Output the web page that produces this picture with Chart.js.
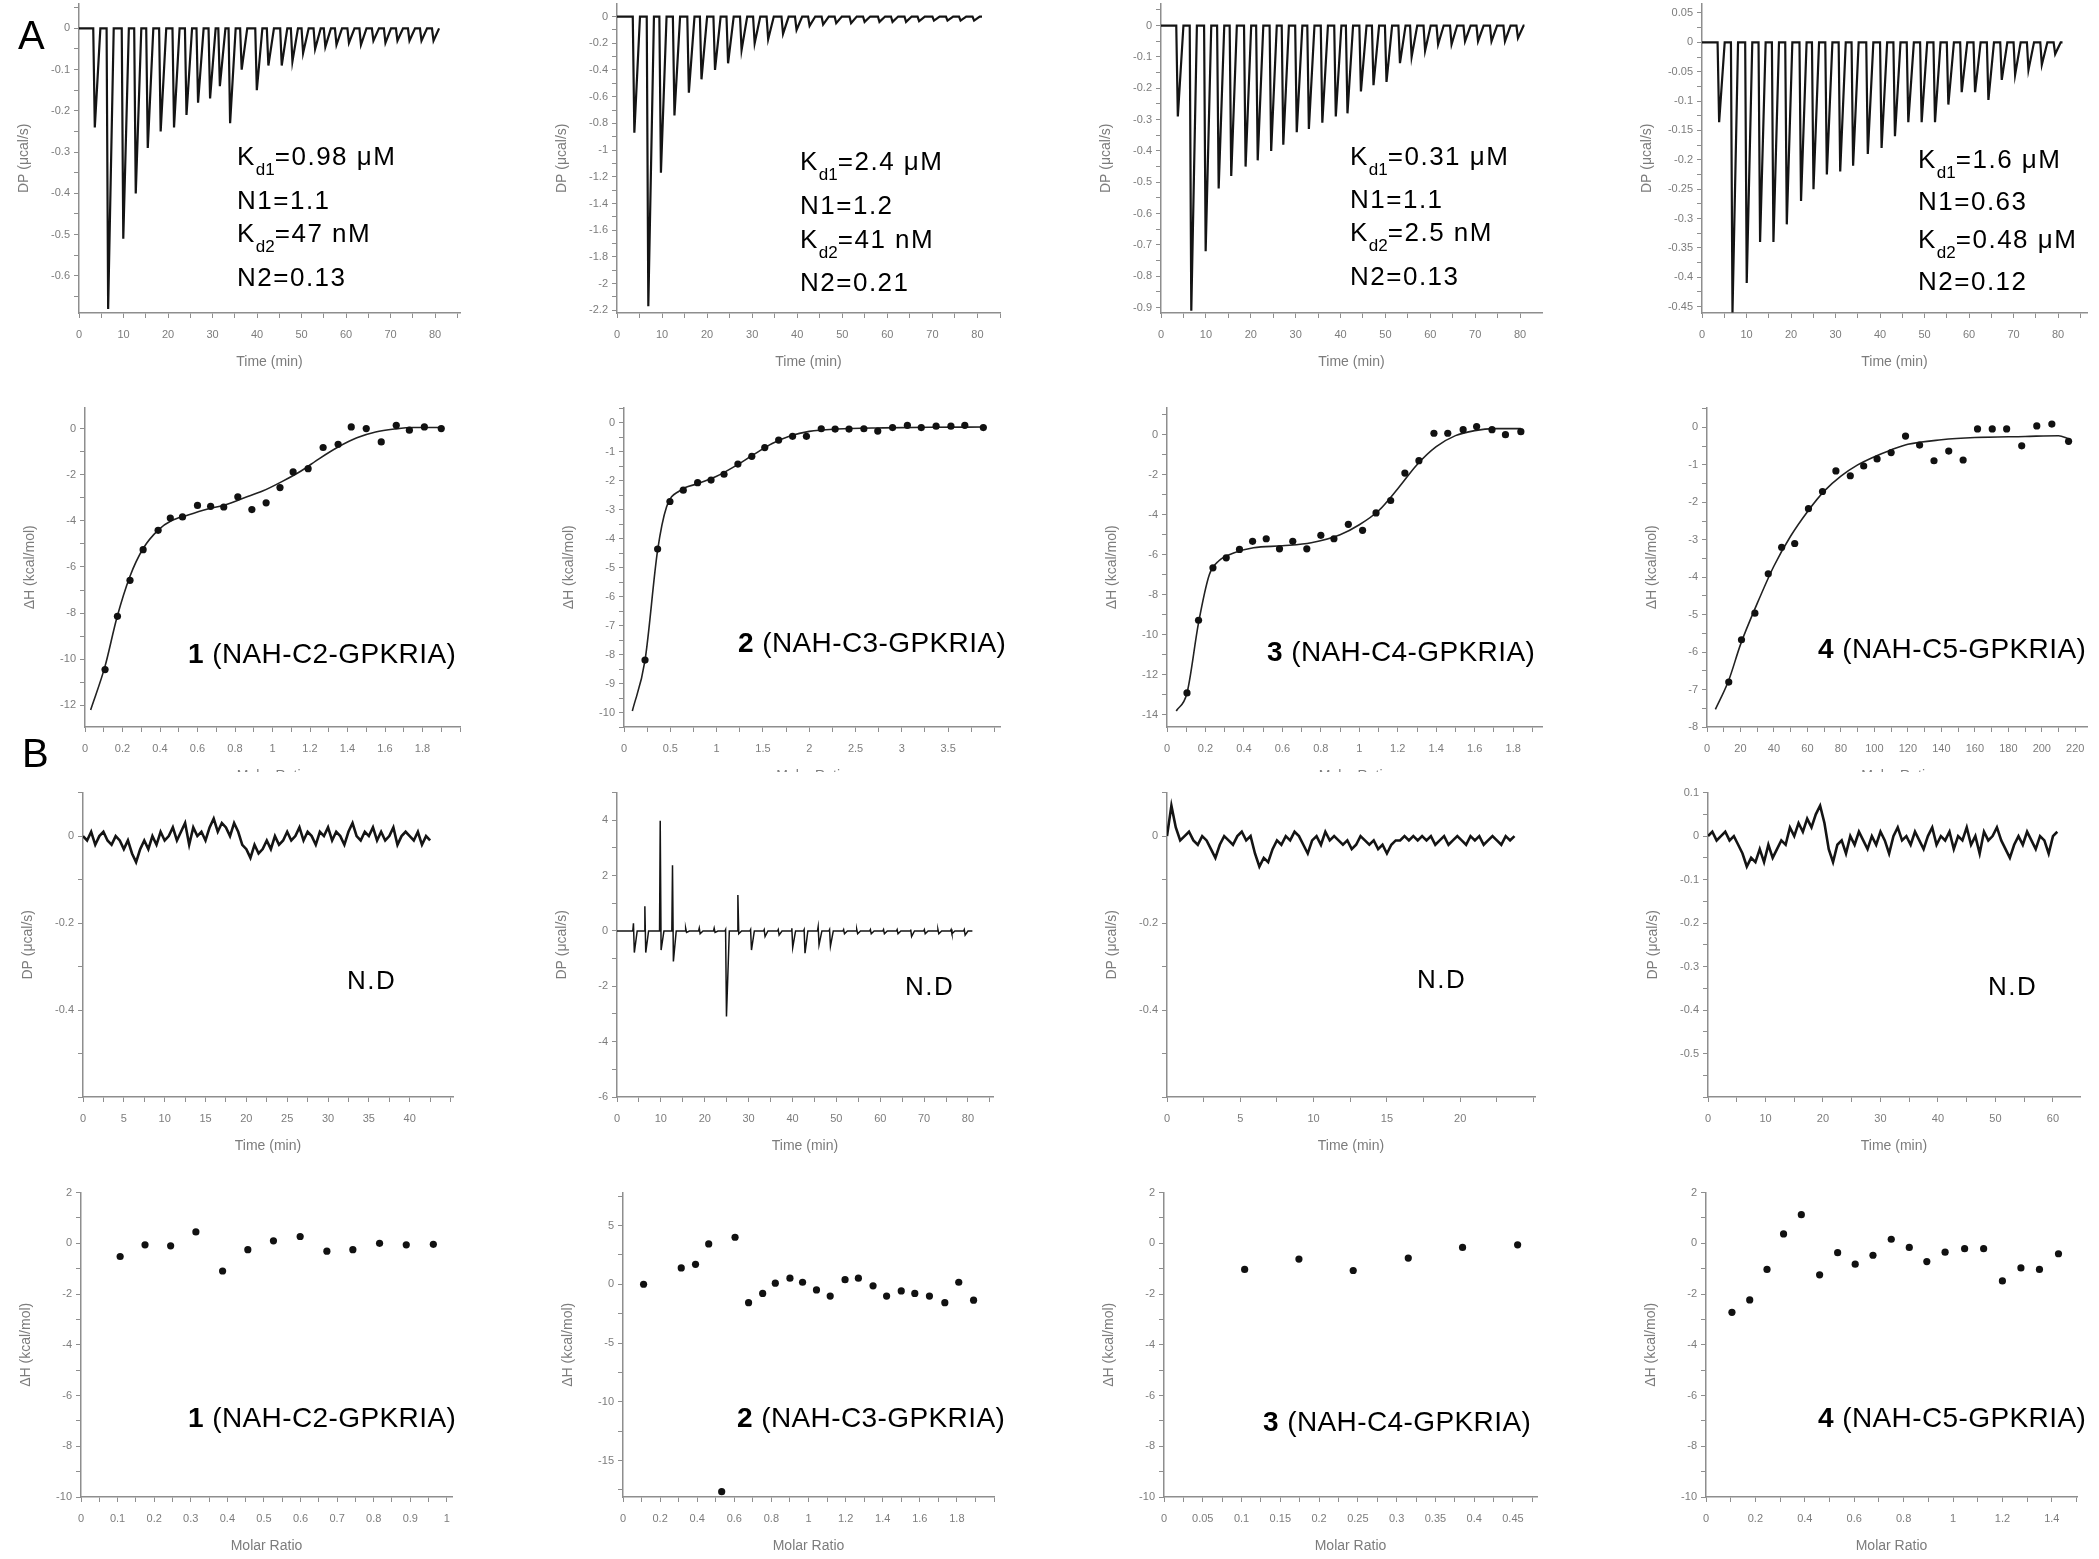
<!DOCTYPE html>
<html>
<head>
<meta charset="utf-8">
<script src="https://cdn.jsdelivr.net/npm/chart.js@4.4.1/dist/chart.umd.min.js"></script>
<style>
body { margin: 0; width: 2099px; height: 1559px; background: #fff; position: relative; overflow: hidden; font-family: "Liberation Sans", Arial, sans-serif; }
.lbl { position: absolute; color: #000; font-size: 26px; line-height: 26px; letter-spacing: 1.5px; white-space: nowrap; z-index: 5; }
.lbl sub { font-size: 17px; position: relative; top: 10px; vertical-align: baseline; letter-spacing: 0; line-height: 0; }
.cmp { font-size: 28px; line-height: 28px; letter-spacing: 0.4px; }
.big { font-size: 40px; line-height: 40px; letter-spacing: 0; }
</style>
</head>
<body>

<div class="lbl big" style="left:18px;top:15px">A</div>
<div class="lbl big" style="left:22px;top:733px">B</div>

<div class="lbl" style="left:237px;top:143px">K<sub>d1</sub>=0.98 μM</div>
<div class="lbl" style="left:237px;top:187px">N1=1.1</div>
<div class="lbl" style="left:237px;top:220px">K<sub>d2</sub>=47 nM</div>
<div class="lbl" style="left:237px;top:264px">N2=0.13</div>

<div class="lbl" style="left:800px;top:148px">K<sub>d1</sub>=2.4 μM</div>
<div class="lbl" style="left:800px;top:192px">N1=1.2</div>
<div class="lbl" style="left:800px;top:226px">K<sub>d2</sub>=41 nM</div>
<div class="lbl" style="left:800px;top:269px">N2=0.21</div>

<div class="lbl" style="left:1350px;top:143px">K<sub>d1</sub>=0.31 μM</div>
<div class="lbl" style="left:1350px;top:186px">N1=1.1</div>
<div class="lbl" style="left:1350px;top:219px">K<sub>d2</sub>=2.5 nM</div>
<div class="lbl" style="left:1350px;top:263px">N2=0.13</div>

<div class="lbl" style="left:1918px;top:146px">K<sub>d1</sub>=1.6 μM</div>
<div class="lbl" style="left:1918px;top:188px">N1=0.63</div>
<div class="lbl" style="left:1918px;top:226px">K<sub>d2</sub>=0.48 μM</div>
<div class="lbl" style="left:1918px;top:268px">N2=0.12</div>

<div class="lbl cmp" style="left:188px;top:640px"><b>1</b> (NAH-C2-GPKRIA)</div>
<div class="lbl cmp" style="left:738px;top:629px"><b>2</b> (NAH-C3-GPKRIA)</div>
<div class="lbl cmp" style="left:1267px;top:638px"><b>3</b> (NAH-C4-GPKRIA)</div>
<div class="lbl cmp" style="left:1818px;top:635px"><b>4</b> (NAH-C5-GPKRIA)</div>

<div class="lbl" style="left:347px;top:967px">N.D</div>
<div class="lbl" style="left:905px;top:973px">N.D</div>
<div class="lbl" style="left:1417px;top:966px">N.D</div>
<div class="lbl" style="left:1988px;top:973px">N.D</div>

<div class="lbl cmp" style="left:188px;top:1404px"><b>1</b> (NAH-C2-GPKRIA)</div>
<div class="lbl cmp" style="left:737px;top:1404px"><b>2</b> (NAH-C3-GPKRIA)</div>
<div class="lbl cmp" style="left:1263px;top:1408px"><b>3</b> (NAH-C4-GPKRIA)</div>
<div class="lbl cmp" style="left:1818px;top:1404px"><b>4</b> (NAH-C5-GPKRIA)</div>

<script>
// ---- row A, raw thermograms: injection time (min) and peak depth (ucal/s)
const injT1 = [3.2, 6.2, 9.6, 12.4, 15.1, 18.0, 21.0, 23.8, 26.4, 29.1, 31.3, 33.6, 36.2, 39.6, 42.2, 45.2, 47.6, 50.0, 52.7, 55.0, 57.5, 60.3, 63.0, 65.8, 68.5, 71.2, 73.9, 76.6, 79.3];
const injP1 = [-0.24, -0.68, -0.51, -0.40, -0.29, -0.25, -0.24, -0.21, -0.18, -0.17, -0.14, -0.23, -0.10, -0.15, -0.09, -0.09, -0.08, -0.06, -0.05, -0.045, -0.04, -0.035, -0.04, -0.03, -0.035, -0.03, -0.03, -0.03, -0.03];
const injT2 = [3.5, 6.6, 9.4, 12.4, 15.6, 18.4, 21.4, 24.3, 27.3, 30.2, 33.2, 36.5, 39.5, 42.4, 45.4, 48.3, 51.6, 54.6, 57.9, 60.8, 63.8, 66.7, 70.0, 73.0, 75.9, 78.9];
const injP2 = [-0.87, -2.17, -1.17, -0.74, -0.57, -0.47, -0.40, -0.35, -0.25, -0.20, -0.17, -0.13, -0.10, -0.07, -0.06, -0.05, -0.05, -0.04, -0.04, -0.04, -0.04, -0.035, -0.03, -0.03, -0.03, -0.03];
const injT3 = [3.4, 6.4, 9.6, 12.5, 15.3, 18.5, 21.2, 24.2, 26.9, 29.9, 32.6, 35.6, 38.6, 41.2, 44.2, 47.0, 49.9, 52.9, 55.5, 58.5, 61.4, 64.4, 67.4, 70.3, 73.3, 76.3, 79.2];
const injP3 = [-0.29, -0.91, -0.72, -0.52, -0.48, -0.45, -0.43, -0.40, -0.38, -0.34, -0.33, -0.31, -0.29, -0.28, -0.21, -0.19, -0.18, -0.12, -0.10, -0.08, -0.06, -0.06, -0.05, -0.05, -0.05, -0.05, -0.04];
const injT4 = [3.5, 6.5, 9.7, 12.7, 15.7, 18.7, 21.9, 24.7, 27.7, 30.7, 33.6, 36.9, 40.0, 43.0, 46.0, 49.0, 52.0, 55.0, 58.0, 61.0, 64.0, 67.0, 70.0, 73.0, 76.0, 79.0];
const injP4 = [-0.136, -0.46, -0.41, -0.34, -0.34, -0.31, -0.27, -0.25, -0.225, -0.22, -0.21, -0.19, -0.18, -0.16, -0.136, -0.136, -0.136, -0.106, -0.085, -0.085, -0.098, -0.064, -0.055, -0.047, -0.038, -0.02];

// ---- row A, integrated heats: molar ratio, dH (kcal/mol), and fitted curve
const mr1 = [0.107, 0.173, 0.24, 0.31, 0.39, 0.455, 0.52, 0.60, 0.67, 0.74, 0.815, 0.89, 0.966, 1.04, 1.11, 1.19, 1.27, 1.35, 1.42, 1.50, 1.58, 1.66, 1.73, 1.81, 1.90];
const dh1 = [-10.45, -8.14, -6.58, -5.25, -4.41, -3.88, -3.83, -3.33, -3.37, -3.40, -2.96, -3.51, -3.22, -2.56, -1.88, -1.74, -0.82, -0.68, 0.07, 0.0, -0.58, 0.14, -0.07, 0.07, 0.0];
const fitX1 = [0.03, 0.107, 0.17, 0.24, 0.31, 0.39, 0.46, 0.55, 0.65, 0.75, 0.85, 0.95, 1.05, 1.15, 1.25, 1.35, 1.45, 1.55, 1.65, 1.75, 1.90];
const fitY1 = [-12.2, -10.3, -8.2, -6.4, -5.2, -4.4, -4.0, -3.75, -3.5, -3.3, -3.0, -2.7, -2.3, -1.85, -1.3, -0.8, -0.4, -0.15, -0.02, 0.05, 0.05];

const mr2 = [0.227, 0.363, 0.496, 0.64, 0.795, 0.94, 1.08, 1.23, 1.38, 1.52, 1.67, 1.82, 1.97, 2.13, 2.28, 2.43, 2.59, 2.74, 2.90, 3.06, 3.21, 3.37, 3.53, 3.68, 3.88];
const dh2 = [-8.19, -4.36, -2.72, -2.33, -2.07, -1.98, -1.78, -1.43, -1.16, -0.86, -0.60, -0.47, -0.47, -0.21, -0.22, -0.22, -0.21, -0.29, -0.17, -0.09, -0.17, -0.12, -0.12, -0.09, -0.17];
const fitX2 = [0.09, 0.227, 0.363, 0.46, 0.6, 0.8, 1.0, 1.2, 1.4, 1.6, 1.8, 2.0, 2.3, 2.8, 3.3, 3.88];
const fitY2 = [-9.95, -8.2, -4.4, -2.9, -2.35, -2.1, -1.85, -1.5, -1.1, -0.72, -0.45, -0.3, -0.22, -0.18, -0.16, -0.15];

const mr3 = [0.104, 0.164, 0.239, 0.308, 0.377, 0.445, 0.516, 0.585, 0.654, 0.727, 0.80, 0.868, 0.943, 1.017, 1.087, 1.163, 1.237, 1.31, 1.388, 1.46, 1.54, 1.61, 1.69, 1.76, 1.84];
const dh3 = [-12.9, -9.27, -6.65, -6.15, -5.73, -5.33, -5.2, -5.7, -5.33, -5.7, -5.03, -5.2, -4.48, -4.78, -3.91, -3.29, -1.92, -1.30, 0.07, 0.07, 0.25, 0.40, 0.25, 0.0, 0.15];
const fitX3 = [0.048, 0.104, 0.164, 0.22, 0.27, 0.35, 0.45, 0.6, 0.75, 0.9, 1.0, 1.1, 1.2, 1.3, 1.4, 1.5, 1.6, 1.7, 1.84];
const fitY3 = [-13.8, -12.9, -9.4, -7.0, -6.3, -5.9, -5.65, -5.55, -5.4, -5.0, -4.5, -3.8, -2.7, -1.5, -0.6, -0.05, 0.2, 0.3, 0.3];

const mr4 = [13, 20.6, 28.6, 36.6, 44.6, 52.4, 60.6, 69, 77, 85.6, 93.6, 101.6, 110, 118.6, 127, 135.6, 144.4, 153, 161.6, 170.4, 179, 188, 197, 206, 216];
const dh4 = [-6.8, -5.67, -4.96, -3.91, -3.2, -3.1, -2.17, -1.71, -1.16, -1.29, -1.03, -0.84, -0.67, -0.23, -0.47, -0.89, -0.63, -0.87, -0.04, -0.04, -0.04, -0.49, 0.04, 0.09, -0.37];
const fitX4 = [5, 13, 20, 30, 40, 50, 60, 70, 80, 90, 100, 110, 120, 140, 160, 190, 210, 216];
const fitY4 = [-7.53, -6.75, -5.8, -4.7, -3.7, -2.9, -2.25, -1.7, -1.3, -1.0, -0.78, -0.6, -0.45, -0.33, -0.27, -0.24, -0.22, -0.3];

// ---- row B, raw traces (controls): baseline readings at a fixed interval, ucal/s
const stepB1 = 0.5;
const traceB1 = [0, -1, 1, -2, 0, 1, -1, -2, 0, -1, -3, -1, -4, -6, -3, -1, -3, 0, -2, 1, -1, 0, 2, -1, 1, 3, -2, 2, 0, 1,
  -1, 2, 4, 1, 3, 2, 0, 3, 1, -2, -3, -5, -2, -4, -3, -1, -3, 0, -2, -1, 1, -1, 0, 2, -1, 1, 0, -2, 1, 0,
  2, -1, 1, 0, -2, 1, 3, 0, -1, 1, 0, 2, -1, 1, -1, 0, 2, -2, 0, 1, 0, -1, 1, -2, 0, -1].map(v => v / 100);
const injTB2 = [3.6, 6.2, 9.7, 12.5, 15.5, 18.6, 22.0, 24.6, 27.4, 30.3, 33.4, 36.6, 39.7, 42.5, 45.7, 48.3, 51.5, 54.5, 57.6, 60.6, 63.7, 66.8, 69.9, 73.0, 76.0, 79.0];
const upB2 = [0.28, 0.89, 3.98, 2.37, 0.1, 0.1, 0.1, 0.05, 1.3, 0.05, 0.05, 0.05, 0.1, 0.05, 0.15, 0.05, 0.05, 0.05, 0.05, 0.05, 0.05, 0.05, 0.05, 0.05, 0.05, 0.05];
const dnB2 = [-0.78, -0.78, -0.69, -1.1, -0.05, -0.1, -0.05, -3.09, -0.1, -0.69, -0.2, -0.15, -0.6, -0.8, -0.5, -0.55, -0.1, -0.1, -0.1, -0.1, -0.1, -0.2, -0.1, -0.1, -0.1, -0.15];
const stepB3 = 0.3;
const traceB3 = [0, 7, 2, -1, 0, 1, -1, -2, 0, -1, -3, -5, -2, 0, -1, -2, 0, 1, -1, 0, -4, -7, -5, -6, -3, -1, -2, 0, -1, 1,
  0, -2, -4, -1, 0, -2, 1, -1, 0, -1, -2, -1, -3, -2, 0, -1, -2, -1, -3, -2, -4, -2, -1, -1, 0, -1, 0, -1, 0, -1,
  0, -2, -1, 0, -2, -1, 0, -1, -2, 0, -1, 0, -2, -1, 0, -1, -2, 0, -1, 0].map(v => v / 100);
const stepB4 = 0.75;
const traceB4 = [0, 1, -1, 0, 1, -1, 0, -2, -4, -7, -5, -6, -3, -6, -2, -5, -3, -1, -2, 2, 0, 3, 1, 4, 2, 5, 7, 3, -3, -6,
  -2, -1, -4, 0, -2, 1, -1, -3, 0, -2, 1, -1, -4, 0, 2, -1, 0, -2, 1, -1, -3, 0, 2, -2, 0, -1, 1, -3, 0, -1,
  2, -2, 0, -4, 1, -1, 0, 2, -1, -3, -5, -2, 0, -2, 1, -1, -3, 0, -1, -4, 0, 1].map(v => v / 100);

// ---- row B, integrated heats
const mrB1 = [0.107, 0.175, 0.245, 0.314, 0.387, 0.456, 0.526, 0.599, 0.672, 0.743, 0.816, 0.889, 0.963];
const dhB1 = [-0.52, -0.06, -0.10, 0.45, -1.09, -0.25, 0.10, 0.27, -0.31, -0.25, 0.0, -0.06, -0.04];
const mrB2 = [0.111, 0.314, 0.391, 0.462, 0.532, 0.604, 0.677, 0.753, 0.821, 0.90, 0.968, 1.043, 1.117, 1.197, 1.269, 1.348, 1.421, 1.5, 1.573, 1.652, 1.735, 1.81, 1.89];
const dhB2 = [0.0, 1.39, 1.70, 3.43, -17.65, 4.0, -1.57, -0.78, 0.09, 0.52, 0.17, -0.48, -1.0, 0.39, 0.52, -0.13, -1.0, -0.57, -0.78, -1.0, -1.57, 0.17, -1.35];
const mrB3 = [0.104, 0.174, 0.244, 0.315, 0.385, 0.456];
const dhB3 = [-1.03, -0.62, -1.07, -0.58, -0.16, -0.06];
const mrB4 = [0.105, 0.177, 0.247, 0.314, 0.386, 0.46, 0.533, 0.604, 0.676, 0.75, 0.823, 0.894, 0.968, 1.047, 1.124, 1.2, 1.275, 1.35, 1.427];
const dhB4 = [-2.72, -2.23, -1.03, 0.37, 1.13, -1.24, -0.37, -0.82, -0.47, 0.16, -0.16, -0.72, -0.35, -0.21, -0.21, -1.48, -0.97, -1.03, -0.41];

// ---- tick labels
const tTime80 = [0, 10, 20, 30, 40, 50, 60, 70, 80];
const tDP1 = [0, -0.1, -0.2, -0.3, -0.4, -0.5, -0.6];
const tDP2 = [0, -0.2, -0.4, -0.6, -0.8, -1, -1.2, -1.4, -1.6, -1.8, -2, -2.2];
const tDP3 = [0, -0.1, -0.2, -0.3, -0.4, -0.5, -0.6, -0.7, -0.8, -0.9];
const tDP4 = [0.05, 0, -0.05, -0.1, -0.15, -0.2, -0.25, -0.3, -0.35, -0.4, -0.45];
const tMR18 = [0, 0.2, 0.4, 0.6, 0.8, 1, 1.2, 1.4, 1.6, 1.8];
const tMR35 = [0, 0.5, 1, 1.5, 2, 2.5, 3, 3.5];
const tMR220 = [0, 20, 40, 60, 80, 100, 120, 140, 160, 180, 200, 220];
const tDH12 = [0, -2, -4, -6, -8, -10, -12];
const tDH10 = [0, -1, -2, -3, -4, -5, -6, -7, -8, -9, -10];
const tDH14 = [0, -2, -4, -6, -8, -10, -12, -14];
const tDH8 = [0, -1, -2, -3, -4, -5, -6, -7, -8];
const tTimeB1 = [0, 5, 10, 15, 20, 25, 30, 35, 40];
const tTimeB3 = [0, 5, 10, 15, 20];
const tTimeB4 = [0, 10, 20, 30, 40, 50, 60];
const tDPB = [0, -0.2, -0.4];
const tDPB2 = [4, 2, 0, -2, -4, -6];
const tDPB4 = [0.1, 0, -0.1, -0.2, -0.3, -0.4, -0.5];
const tMRB1 = [0, 0.1, 0.2, 0.3, 0.4, 0.5, 0.6, 0.7, 0.8, 0.9, 1];
const tMRB3 = [0, 0.05, 0.1, 0.15, 0.2, 0.25, 0.3, 0.35, 0.4, 0.45];
const tMRB4 = [0, 0.2, 0.4, 0.6, 0.8, 1, 1.2, 1.4];
const tDHB = [2, 0, -2, -4, -6, -8, -10];
const tDHB2 = [5, 0, -5, -10, -15];

// ---- drawing
const FONT = '"Liberation Sans", Arial, sans-serif';
const axisCol = '#8e8e8e', labelCol = '#7c7c7c';
const W = 63, H = 58, PT = 10, PR = 14;
const DP = 'DP (μcal/s)', DH = 'ΔH (kcal/mol)';

const pts = (xs, ys) => xs.map((x, i) => ({ x: x, y: ys[i] }));

function spikes(times, peaks, tEnd) {
  const out = [{ x: 0, y: 0 }];
  times.forEach((t, i) => {
    out.push({ x: t, y: 0 }, { x: t + 0.35, y: peaks[i] }, { x: t + 1.6, y: 0 });
  });
  out.push({ x: tEnd, y: 0 });
  return out;
}

function bipolar(times, ups, downs, tEnd) {
  const out = [{ x: 0, y: 0 }];
  times.forEach((t, i) => {
    out.push({ x: t, y: 0 }, { x: t + 0.15, y: ups[i] }, { x: t + 0.35, y: downs[i] }, { x: t + 1.0, y: 0 });
  });
  out.push({ x: tEnd, y: 0 });
  return out;
}

const sampled = (vals, step) => vals.map((v, i) => ({ x: i * step, y: v }));

const lineSet = (data, w) => ({ data, showLine: true, borderColor: '#141414', borderWidth: w || 2.2, pointRadius: 0, tension: 0 });
const fitSet = data => ({ data, showLine: true, borderColor: '#222', borderWidth: 1.6, pointRadius: 0, cubicInterpolationMode: 'monotone' });
const dotSet = data => ({ data, showLine: false, pointRadius: 3.6, pointBackgroundColor: '#111', pointBorderWidth: 0 });

function axis(pos, range, majors, title) {
  const half = Math.abs(majors[1] - majors[0]) / 2;
  return {
    type: 'linear',
    position: pos,
    min: range[0],
    max: range[1],
    afterBuildTicks: s => {
      const k0 = Math.ceil((range[0] - majors[0]) / half - 1e-6);
      const k1 = Math.floor((range[1] - majors[0]) / half + 1e-6);
      const list = [];
      for (let k = k0; k <= k1; k++) list.push({ value: majors[0] + k * half });
      s.ticks = list;
    },
    afterFit: s => { if (pos === 'left') s.width = W; else s.height = H; },
    ticks: {
      autoSkip: false, maxRotation: 0, padding: pos === 'left' ? 4 : 10,
      color: labelCol, font: { size: 11, family: FONT },
      callback: v => {
        const m = majors.find(t => Math.abs(t - v) < 1e-9);
        return m === undefined ? '' : String(m);
      }
    },
    grid: { drawOnChartArea: false, drawTicks: true, tickLength: 5, color: axisCol },
    border: { color: axisCol, width: 1.5 },
    title: { display: !!title, text: title, color: labelCol, font: { size: 14, family: FONT }, padding: 0 }
  };
}

function panel(box, xr, yr, xt, yt, xTitle, yTitle, datasets, clipAt) {
  const [ax, top, ex, ay] = box;
  const cw = ex - ax + W + PR, ch = ay - top + PT + H;
  const wrap = document.createElement('div');
  wrap.style.cssText = 'position:absolute;overflow:hidden;left:' + (ax - W) + 'px;top:' + (top - PT) + 'px;width:' + cw + 'px;height:' +
    (clipAt ? clipAt - (top - PT) : ch) + 'px';
  const c = document.createElement('canvas');
  c.width = cw; c.height = ch;
  c.style.cssText = 'position:absolute;left:0;top:0;width:' + cw + 'px;height:' + ch + 'px';
  wrap.appendChild(c);
  document.body.appendChild(wrap);
  new Chart(c, {
    type: 'scatter',
    data: { datasets },
    options: {
      responsive: false, animation: false, devicePixelRatio: 1,
      layout: { padding: { left: 0, top: PT, right: PR, bottom: 0 } },
      plugins: { legend: { display: false }, tooltip: { enabled: false } },
      scales: { x: axis('bottom', xr, xt, xTitle), y: axis('left', yr, yt, yTitle) }
    }
  });
}

// row 1: thermograms
panel([79, 3, 460, 313], [0, 85.6], [-0.69, 0.06], tTime80, tDP1, 'Time (min)', DP, [lineSet(spikes(injT1, injP1, 81))]);
panel([617, 3, 1000, 313], [0, 85], [-2.22, 0.097], tTime80, tDP2, 'Time (min)', DP, [lineSet(spikes(injT2, injP2, 81))]);
panel([1161, 3, 1542, 313], [0, 84.9], [-0.917, 0.07], tTime80, tDP3, 'Time (min)', DP, [lineSet(spikes(injT3, injP3, 81))]);
panel([1702, 3, 2087, 313], [0, 86.5], [-0.461, 0.066], tTime80, tDP4, 'Time (min)', DP, [lineSet(spikes(injT4, injP4, 81))]);

// row 2: binding isotherms
panel([85, 407, 460, 727], [0, 2.0], [-12.94, 0.91], tMR18, tDH12, 'Molar Ratio', DH, [dotSet(pts(mr1, dh1)), fitSet(pts(fitX1, fitY1))], 772);
panel([624, 407, 1000, 727], [0, 4.06], [-10.5, 0.52], tMR35, tDH10, 'Molar Ratio', DH, [dotSet(pts(mr2, dh2)), fitSet(pts(fitX2, fitY2))], 772);
panel([1167, 407, 1542, 727], [0, 1.95], [-14.6, 1.35], tMR18, tDH14, 'Molar Ratio', DH, [dotSet(pts(mr3, dh3)), fitSet(pts(fitX3, fitY3))], 772);
panel([1707, 407, 2087, 727], [0, 227], [-8.0, 0.53], tMR220, tDH8, 'Molar Ratio', DH, [dotSet(pts(mr4, dh4)), fitSet(pts(fitX4, fitY4))], 772);

// row 3: control thermograms
panel([83, 792, 453, 1097], [0, 45.3], [-0.6, 0.1], tTimeB1, tDPB, 'Time (min)', DP, [lineSet(sampled(traceB1, stepB1), 2.6)]);
panel([617, 792, 993, 1097], [0, 85.7], [-6, 5], tTime80, tDPB2, 'Time (min)', DP, [lineSet(bipolar(injTB2, upB2, dnB2, 81), 1.5)]);
panel([1167, 792, 1535, 1097], [0, 25.1], [-0.6, 0.1], tTimeB3, tDPB, 'Time (min)', DP, [lineSet(sampled(traceB3, stepB3), 2.6)]);
panel([1708, 792, 2080, 1097], [0, 64.7], [-0.6, 0.1], tTimeB4, tDPB4, 'Time (min)', DP, [lineSet(sampled(traceB4, stepB4), 2.6)]);

// row 4: control heats
panel([81, 1192, 452, 1497], [0, 1.014], [-10, 2], tMRB1, tDHB, 'Molar Ratio', DH, [dotSet(pts(mrB1, dhB1))]);
panel([623, 1192, 994, 1497], [0, 2.0], [-18.1, 7.8], tMR18, tDHB2, 'Molar Ratio', DH, [dotSet(pts(mrB2, dhB2))]);
panel([1164, 1192, 1537, 1497], [0, 0.481], [-10, 2], tMRB3, tDHB, 'Molar Ratio', DH, [dotSet(pts(mrB3, dhB3))]);
panel([1706, 1192, 2077, 1497], [0, 1.502], [-10, 2], tMRB4, tDHB, 'Molar Ratio', DH, [dotSet(pts(mrB4, dhB4))]);
</script>
</body>
</html>
